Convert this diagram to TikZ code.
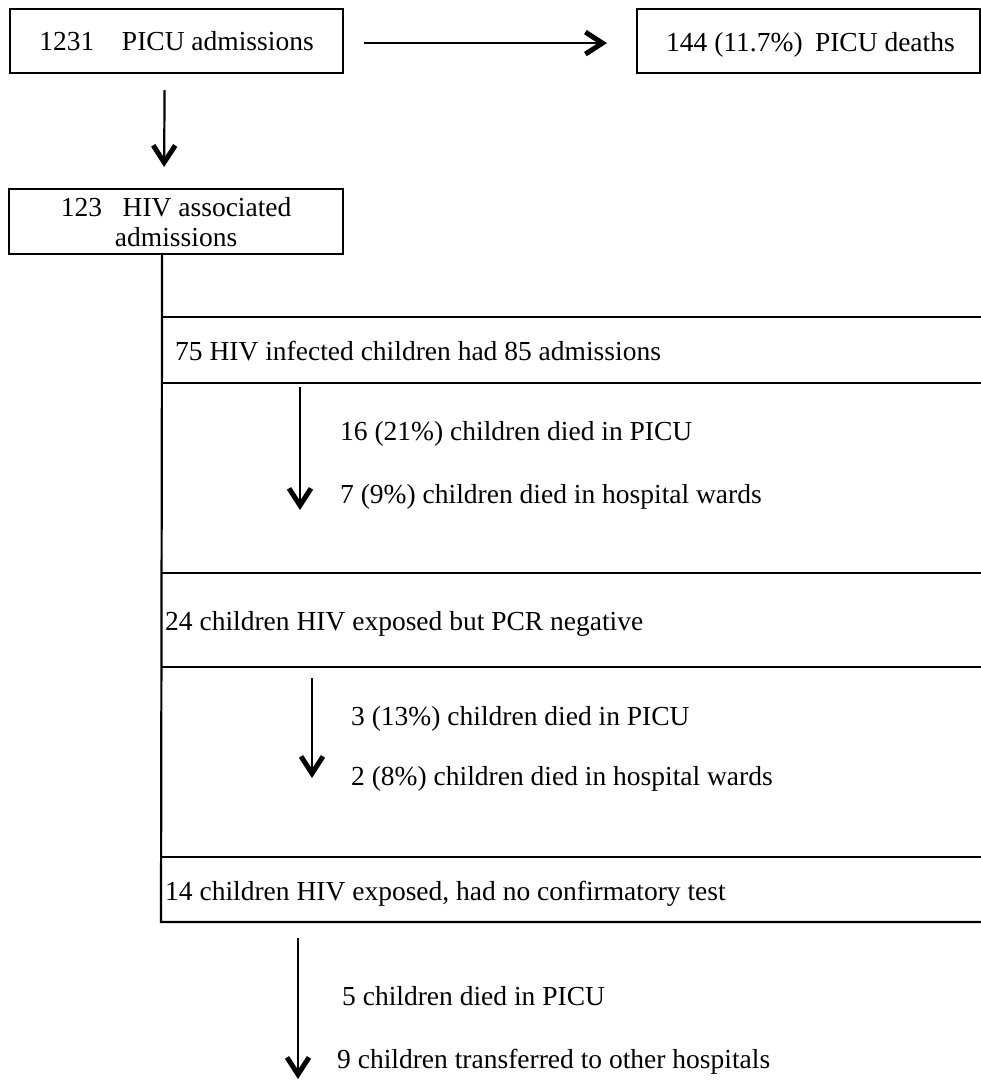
\documentclass[tikz,border=0pt]{standalone}
\usepackage{fontspec}
\setmainfont{Liberation Serif}
\usetikzlibrary{arrows.meta}
\begin{document}
\begin{tikzpicture}[x=1pt,y=-1pt,
  font=\fontsize{27.5}{30}\selectfont,
  box/.style={draw,line width=2.2pt,inner sep=0pt,anchor=north west},
  txt/.style={anchor=base west,inner sep=0pt},
  rule/.style={line width=2.2pt},
  flow/.style={line width=2.2pt,-{Straight Barb[length=17pt,width=22pt,line width=5pt]}}]
\useasboundingbox (0,0) rectangle (981,1081);

% top boxes
\node[box,minimum width=333pt,minimum height=64pt] (b1) at (9,8) {1231\hspace{1em}PICU admissions};
\node[box,minimum width=343pt,minimum height=64pt] (b2) at (636,8) {};
\node[txt] (b2t) at ([xshift=30pt,yshift=-10pt]b2.west) {144 (11.7\%)\hspace{0.45em}PICU deaths};
\node[box,minimum width=334pt,minimum height=65pt,align=center] (b3) at (8,188) {123\ \ \ HIV associated\\admissions};

\draw[flow] ([xshift=20pt,yshift=-2pt]b1.east) -- ([xshift=-29pt,yshift=-2pt]b2.west);
\draw[flow] ([xshift=-12pt,yshift=-16pt]b1.south) -- ([xshift=-12pt,yshift=21pt]b3.north);

% trunk and band rules
\coordinate (trunktop) at ([xshift=-14pt]b3.south);
\coordinate (trunkend) at (161,922);
\coordinate (rightend) at (981,922);
\draw[rule] (trunktop) -- (trunkend) -- (rightend);
\foreach \yy in {317,383,573,667,857}{
  \draw[rule] (161,\yy) -- (981,\yy);
}

% band texts
\node[txt] (t75) at (175,360) {75 HIV infected children had 85 admissions};
\node[txt] (t16) at (340,440) {16 (21\%) children died in PICU};
\node[txt] (t7)  at (340,503) {7 (9\%) children died in hospital wards};
\node[txt] (t24) at (165,630) {24 children HIV exposed but PCR negative};
\node[txt] (t3)  at (351,725) {3 (13\%) children died in PICU};
\node[txt] (t2)  at (351,785) {2 (8\%) children died in hospital wards};
\node[txt] (t14) at (165,900) {14 children HIV exposed, had no confirmatory test};
\node[txt] (t5)  at (342,1005) {5 children died in PICU};
\node[txt] (t9)  at (337,1068) {9 children transferred to other hospitals};

% inner arrows
\coordinate (a1s) at (300,387); \coordinate (a1e) at (300,510);
\coordinate (a2s) at (312,678); \coordinate (a2e) at (312,778);
\coordinate (a3s) at (298,938); \coordinate (a3e) at (298,1079);
\draw[flow] (a1s) -- (a1e);
\draw[flow] (a2s) -- (a2e);
\draw[flow] (a3s) -- (a3e);
\end{tikzpicture}
\end{document}
